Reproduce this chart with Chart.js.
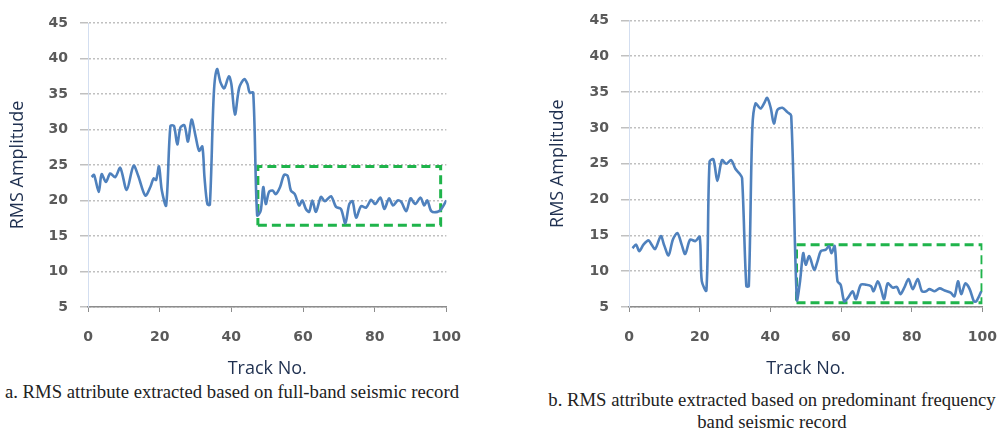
<!DOCTYPE html>
<html>
<head>
<meta charset="utf-8">
<script src="https://cdn.jsdelivr.net/npm/chart.js@4"></script>
<style>
  html, body { margin: 0; background: #fff; width: 998px; height: 428px; overflow: hidden; }
  body { position: relative; }
  .box { position: absolute; }
  .cap { position: absolute; font-family: "Liberation Serif", serif; font-size: 18.7px; color: #222; text-align: center; line-height: 22px; white-space: nowrap; }
</style>
</head>
<body>
<div class="box" style="left:0;top:0;width:478px;height:380px"><canvas id="chartA"></canvas></div>
<div class="box" style="left:545px;top:0;width:469px;height:380px"><canvas id="chartB"></canvas></div>
<div class="cap" style="left:0;top:381px;width:464px">a. RMS attribute extracted based on full-band seismic record</div>
<div class="cap" style="left:545px;top:389px;width:454px">b. RMS attribute extracted based on predominant frequency<br>band seismic record</div>
<script>
// Track numbers and RMS values
const trackA = [1,1.7,3,3.8,5,6.2,7.6,9,10.8,12.7,14,16,17.4,18.3,19,19.8,20.6,21.8,23,24,
  24.9,25.8,26.9,27.9,28.9,30,31,31.9,32.5,33.3,34,35.1,36,37,38,39.3,40,41,42.2,43.6,
  44.5,45.1,46.1,47.2,48.2,48.9,49.6,50.5,51.5,52.4,53.6,54.7,55.7,56.6,57.7,58.9,59.8,60.8,61.7,62.6,
  63.6,65,66.1,67.8,69.2,70.6,71.8,72.9,73.8,74.8,76.2,77.6,79,80.1,81.6,82.7,84,85.1,86.4,87.4,
  88.8,90,91.3,92.8,93.8,94.7,95.8,97.5,98.6,100];
const rmsA = [23.3,23.6,21.2,23.7,22.6,23.8,23.3,24.6,21.5,24.9,23.5,20.7,21.9,23.1,22.9,24.8,21.4,19.3,30.5,30.5,
  27.9,30.3,30.6,28.3,31.4,29.1,27,27.6,23.3,19.5,19.4,35,38.5,36.6,35.8,37.5,36.4,32.1,35.9,37.1,
  36.4,35.2,35.2,17.9,18.6,21.9,19.5,21.2,21.4,20.9,21.9,23.6,23.5,21.4,20.9,19.3,20,18.8,18.4,20,
  18.4,20.5,19.9,20.6,19.1,18.8,16.8,19.5,19.9,17.6,19.2,19,20.1,19.5,20.4,18.8,20.3,19.3,20,19.8,
  18.5,20.3,19.5,20.4,19.3,20,18.5,18.4,18.8,20];

const trackB = [1,2,2.9,4.1,5.5,6.4,7.4,9,9.9,11.2,12.4,13.7,14.9,15.9,17.3,18.8,20,20.6,21.9,22.8,
  23.9,25,26.3,27.5,28.9,30.1,31.3,32,33.2,33.9,34.9,35.8,37.2,38.2,39.1,40.1,41,42,43.4,44.8,
  45.9,47.5,48.4,49.3,50,51,52.4,53.3,54.3,55.7,56.6,57.3,58.2,59,59.9,60.9,62,63.3,64.2,65.6,
  67.1,68.5,69.2,70.4,71.3,72.2,73.2,74.6,75.8,76.8,77.9,79.1,80.3,81.7,82.9,84.1,85,86.5,87.9,89.3,
  91,92.1,93.1,94,95.2,96.4,97.6,98.3,99.7];
const rmsB = [13.2,13.7,12.8,13.7,14.3,13.7,13.1,14.9,13.7,12.2,14.4,15.3,13.7,12.4,14.4,14.2,14.8,8.6,7.3,25.3,
  25.6,22.6,25.5,25,25.5,24.3,23.6,23,7.9,7.9,29.9,33.4,32.7,33.4,34.2,32.8,30.6,32.5,32.8,32.2,
  31.7,6.0,8.6,12.5,10.9,12.1,10.2,11.3,12.8,13,13.5,12.5,13.5,8.6,8.1,5.8,6.3,7.2,6.1,8.1,
  8.1,7.9,7.2,8.6,7.5,6.1,8.3,7.7,7.8,6.8,7.7,8.9,7.5,8.9,7.2,7.2,7.5,7.2,7.6,7.3,
  7,6.5,8.6,6.8,8.3,7.5,5.8,5.8,7.2];

// highlighted ranges (green dashed boxes): [track from, track to], [rms low, rms high]
const boxTracksA = [47.4, 98.4];
const boxRmsA = [16.5, 24.8];
const boxTracksB = [47.4, 99.9];
const boxRmsB = [5.6, 13.7];

const xTicks = [0, 20, 40, 60, 80, 100];
const yTicks = [5, 10, 15, 20, 25, 30, 35, 40, 45];

function boxPoints(tr, rv) {
    return [
        {x: tr[0], y: rv[0]}, {x: tr[1], y: rv[0]}, {x: tr[1], y: rv[1]},
        {x: tr[0], y: rv[1]}, {x: tr[0], y: rv[0]}
    ];
}

function makeChart(id, tracks, values, boxT, boxR, axisW, titlePad, padTop) {
    const ctx = document.getElementById(id).getContext('2d');
    return new Chart(ctx, {
        type: 'scatter',
        data: {
            datasets: [{
                data: tracks.map((t, i) => ({x: t, y: values[i]})),
                showLine: true,
                borderColor: '#4f81bd',
                borderWidth: 2.6,
                pointRadius: 0,
                tension: 0.3
            }, {
                data: boxPoints(boxT, boxR),
                showLine: true,
                borderColor: '#1fb44b',
                borderWidth: 3,
                borderDash: [9, 5],
                pointRadius: 0,
                tension: 0
            }]
        },
        options: {
            responsive: true,
            maintainAspectRatio: false,
            animation: false,
            layout: { padding: { left: 0, right: 0, top: padTop, bottom: 0 } },
            plugins: { legend: { display: false }, tooltip: { enabled: false } },
            scales: {
                x: {
                    type: 'linear',
                    min: 0, max: 100,
                    afterBuildTicks: s => { s.ticks = xTicks.map(v => ({value: v})); },
                    grid: { drawOnChartArea: false, color: '#8c8c8c', tickLength: 5 },
                    border: { color: '#8c8c8c', width: 1.5 },
                    ticks: { color: '#5a5a5a', padding: 17, font: { family: 'DejaVu Sans', size: 14, weight: 'bold' } },
                    title: { display: true, text: 'Track No.', color: '#1f3050', padding: { top: 4, bottom: 0 },
                             font: { family: 'Open Sans', size: 18 } },
                    afterFit: s => { s.height = 73; }
                },
                y: {
                    min: 5, max: 45,
                    afterBuildTicks: s => { s.ticks = yTicks.map(v => ({value: v})); },
                    grid: { color: '#c0c0c0', lineWidth: 1.5, tickLength: 8 },
                    border: { color: '#d3def0', width: 1, dash: [2, 2] },
                    ticks: { color: '#5a5a5a', padding: 12, font: { family: 'DejaVu Sans', size: 14, weight: 'bold' } },
                    title: { display: true, text: 'RMS Amplitude', color: '#1f3050', padding: { top: titlePad, bottom: 0 },
                             font: { family: 'Open Sans', size: 18 } },
                    afterFit: s => { s.width = axisW; }
                }
            }
        }
    });
}

makeChart('chartA', trackA, rmsA, boxTracksA, boxRmsA, 88, 7, 23);
makeChart('chartB', trackB, rmsB, boxTracksB, boxRmsB, 84, 2, 18);
</script>
</body>
</html>
